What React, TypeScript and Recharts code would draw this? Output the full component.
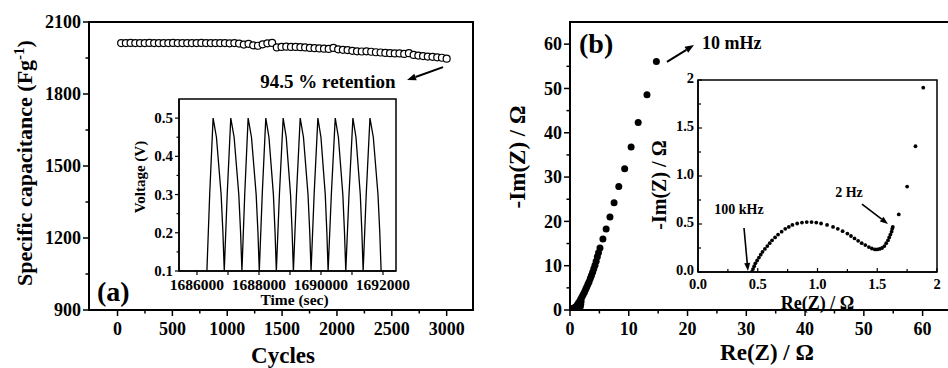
import React from 'react';
import {
  ScatterChart,
  Scatter,
  LineChart,
  Line,
  XAxis,
  YAxis,
  ReferenceArea,
  ReferenceLine,
  ReferenceDot,
} from 'recharts';

const FONT = '"Liberation Serif", "Times New Roman", Times, serif';

// ---------------- Panel (a): cycling stability ----------------
const cycleNumbers = [
  33, 76, 119, 162, 205, 248, 291, 334, 377, 420, 463, 506, 549, 592, 635, 678, 721, 764, 807, 850,
  893, 936, 979, 1022, 1065, 1108, 1151, 1194, 1237, 1280, 1323, 1366, 1409, 1452, 1495, 1538, 1581,
  1624, 1667, 1710, 1753, 1796, 1839, 1882, 1925, 1968, 2011, 2054, 2097, 2140, 2183, 2226, 2269, 2312,
  2355, 2398, 2441, 2484, 2527, 2570, 2613, 2656, 2699, 2742, 2785, 2828, 2871, 2914, 2957, 3000,
];
const specificCapacitance = [
  2012, 2012, 2013, 2012, 2012, 2012, 2013, 2012, 2012, 2012, 2012, 2013, 2012, 2012, 2012, 2012, 2012,
  2013, 2012, 2012, 2012, 2012, 2012, 2011, 2012, 2010, 2006, 2009, 2003, 2001, 2007, 2011, 2013, 1994,
  1996, 1997, 1996, 1996, 1995, 1994, 1992, 1991, 1990, 1989, 1988, 1992, 1986, 1984, 1983, 1980, 1978,
  1977, 1978, 1976, 1974, 1973, 1971, 1970, 1969, 1969, 1967, 1970, 1963, 1960, 1958, 1956, 1955, 1953,
  1951, 1947,
];
const cycleTicks = [0, 500, 1000, 1500, 2000, 2500, 3000];
const cycleMinorTicks = [250, 750, 1250, 1750, 2250, 2750];
const capacitanceTicks = [900, 1200, 1500, 1800, 2100];
const capacitanceMinorTicks = [1050, 1350, 1650, 1950];

// inset (a): galvanostatic charge/discharge
const gcdTime = [
  1686320, 1686410, 1686520, 1686628, 1686779, 1686837,
  1686880, 1686975, 1687090, 1687198, 1687349, 1687407,
  1687450, 1687540, 1687650, 1687758, 1687909, 1687967,
  1688010, 1688105, 1688220, 1688322, 1688465, 1688519,
  1688560, 1688659, 1688780, 1688879, 1689018, 1689070,
  1689110, 1689209, 1689330, 1689435, 1689582, 1689638,
  1689680, 1689779, 1689900, 1689999, 1690138, 1690190,
  1690230, 1690334, 1690460, 1690562, 1690705, 1690759,
  1690800, 1690904, 1691030, 1691129, 1691268, 1691320,
  1691360, 1691459, 1691580, 1691688, 1691839, 1691897,
  1691940,
];
const gcdVoltage = [
  0.1, 0.3, 0.5, 0.45, 0.3, 0.2,
  0.1, 0.3, 0.5, 0.45, 0.3, 0.2,
  0.1, 0.3, 0.5, 0.45, 0.3, 0.2,
  0.1, 0.3, 0.5, 0.45, 0.3, 0.2,
  0.1, 0.3, 0.5, 0.45, 0.3, 0.2,
  0.1, 0.3, 0.5, 0.45, 0.3, 0.2,
  0.1, 0.3, 0.5, 0.45, 0.3, 0.2,
  0.1, 0.3, 0.5, 0.45, 0.3, 0.2,
  0.1, 0.3, 0.5, 0.45, 0.3, 0.2,
  0.1, 0.3, 0.5, 0.45, 0.3, 0.2,
  0.1,
];
const timeTicks = [1686000, 1688000, 1690000, 1692000];
const timeMinorTicks = [1687000, 1689000, 1691000];
const voltageTicks = [0.1, 0.2, 0.3, 0.4, 0.5];
const voltageMinorTicks = [0.15, 0.25, 0.35, 0.45];

// ---------------- Panel (b): Nyquist plot ----------------
const reZ = [
  14.7, 13.1, 11.6, 10.4, 9.3, 8.3, 7.5, 6.8, 6.15, 5.6, 5.1, 4.85, 4.65, 4.45, 4.25, 4.05, 3.85, 3.65,
  3.45, 3.25, 3.05, 2.85, 2.65, 2.45, 2.25, 2.05, 1.85, 1.65, 1.45, 1.3, 1.15, 1.0, 0.9, 0.8, 0.7, 0.6, 0.5,
];
const negImZ = [
  56.1, 48.6, 42.3, 36.8, 31.9, 27.9, 24.2, 21.0, 18.3, 16.0, 14.0, 12.9, 12.0, 11.0, 10.1, 9.3, 8.5, 7.8,
  7.1, 6.4, 5.8, 5.2, 4.6, 4.0, 3.5, 3.0, 2.5, 2.0, 1.6, 1.25, 0.95, 0.7, 0.52, 0.4, 0.3, 0.15, 0.05,
];
const reZHighFreq = [
  0.45, 0.46, 0.47, 0.48, 0.495, 0.51, 0.525, 0.54, 0.56, 0.58, 0.6, 0.62, 0.645, 0.67, 0.7, 0.73, 0.76,
  0.79, 0.83, 0.87, 0.91, 0.95, 0.99, 1.03, 1.08, 1.13, 1.17, 1.21, 1.25, 1.28, 1.31, 1.34, 1.37, 1.4,
  1.43, 1.455, 1.48, 1.5, 1.52, 1.54, 1.56, 1.575, 1.59, 1.6, 1.61, 1.62, 1.625, 1.63, 1.68, 1.75, 1.82,
  1.885,
];
const negImZHighFreq = [
  0.0, 0.03, 0.06, 0.09, 0.12, 0.15, 0.18, 0.21, 0.24, 0.27, 0.3, 0.33, 0.36, 0.39, 0.42, 0.45, 0.47,
  0.49, 0.505, 0.515, 0.52, 0.52, 0.515, 0.505, 0.49, 0.47, 0.45, 0.425, 0.4, 0.375, 0.35, 0.325, 0.3,
  0.28, 0.26, 0.245, 0.235, 0.235, 0.24, 0.25, 0.27, 0.3, 0.33, 0.36, 0.39, 0.42, 0.45, 0.47, 0.6, 0.89,
  1.31, 1.92,
];
const nyqTicks = [0, 10, 20, 30, 40, 50, 60];
const nyqMinorTicks = [5, 15, 25, 35, 45, 55];
const insetTicks = [0, 0.5, 1, 1.5, 2];
const insetMinorTicks = [0.25, 0.75, 1.25, 1.75];

// ---------------- helpers ----------------
type TickOpts = {
  side: 'bottom' | 'left';
  major: number[];
  len: number;
  minorLen: number;
  inward?: boolean;
  size: number;
  gap: number;
  sw: number;
  lift?: number;
  fmt: (v: number) => string;
};

const makeTick = (o: TickOpts) => (props: any) => {
  const x = Number(props.x);
  const y = Number(props.y);
  const v = Number(props.payload?.value);
  const isMajor = o.major.some((m) => Math.abs(m - v) <= 1e-6 * Math.max(1, Math.abs(m)));
  const L = isMajor ? o.len : o.minorLen;
  const s = o.inward ? -1 : 1;
  if (o.side === 'bottom') {
    return (
      <g>
        <line x1={x} x2={x} y1={y} y2={y + s * L} stroke="#000" strokeWidth={o.sw} />
        {isMajor && (
          <text x={x} y={y + o.gap} textAnchor="middle" fontFamily={FONT} fontWeight="bold" fontSize={o.size} fill="#000">
            {o.fmt(v)}
          </text>
        )}
      </g>
    );
  }
  return (
    <g>
      <line x1={x} x2={x - s * L} y1={y} y2={y} stroke="#000" strokeWidth={o.sw} />
      {isMajor && (
        <text x={x - o.gap} y={y + o.size * (o.lift ?? 0.34)} textAnchor="end" fontFamily={FONT} fontWeight="bold" fontSize={o.size} fill="#000">
          {o.fmt(v)}
        </text>
      )}
    </g>
  );
};

const xTitle = (content: React.ReactNode, size: number, dx: number, dy: number) => (props: any) => {
  const vb = props.viewBox || {};
  return (
    <text x={vb.x + vb.width / 2 + dx} y={vb.y + dy} textAnchor="middle" fontFamily={FONT} fontWeight="bold" fontSize={size} fill="#000">
      {content}
    </text>
  );
};

const yTitle = (content: React.ReactNode, size: number, dx: number, dy: number) => (props: any) => {
  const vb = props.viewBox || {};
  const cx = vb.x + dx;
  const cy = vb.y + vb.height / 2 + dy;
  return (
    <text
      x={cx}
      y={cy + size * 0.34}
      transform={`rotate(-90 ${cx} ${cy})`}
      textAnchor="middle"
      fontFamily={FONT}
      fontWeight="bold"
      fontSize={size}
      fill="#000"
    >
      {content}
    </text>
  );
};

const textShape = (text: string, size: number, anchor: 'start' | 'middle' | 'end' = 'start') => (p: any) => (
  <text x={p.cx} y={p.cy} textAnchor={anchor} fontFamily={FONT} fontWeight="bold" fontSize={size} fill="#000">
    {text}
  </text>
);

const arrowShape = (head: number, width: number, sw: number) => (p: any) => {
  const { x1, y1, x2, y2 } = p;
  const ang = Math.atan2(y2 - y1, x2 - x1);
  const bx = x2 - head * Math.cos(ang);
  const by = y2 - head * Math.sin(ang);
  const px = -Math.sin(ang) * width;
  const py = Math.cos(ang) * width;
  return (
    <g>
      <line x1={x1} y1={y1} x2={bx} y2={by} stroke="#000" strokeWidth={sw} />
      <polygon points={`${x2},${y2} ${bx + px},${by + py} ${bx - px},${by - py}`} fill="#000" />
    </g>
  );
};

const HollowCircle = (p: any) => <circle cx={p.cx} cy={p.cy} r={3.5} fill="#fff" stroke="#000" strokeWidth={1.2} />;
const BigDot = (p: any) => <circle cx={p.cx} cy={p.cy} r={3.5} fill="#000" />;
const SmallDot = (p: any) => <circle cx={p.cx} cy={p.cy} r={1.9} fill="#000" />;

const sortNums = (a: number[]) => [...a].sort((p, q) => p - q);
const axisLine = (w: number) => ({ stroke: '#000', strokeWidth: w });

export default function App() {
  const capData = cycleNumbers.map((c, i) => ({ x: c, y: specificCapacitance[i] }));
  const gcdData = gcdTime.map((t, i) => ({ t, v: gcdVoltage[i] }));
  const nyqData = reZ.map((x, i) => ({ x, y: negImZ[i] }));
  const nyqHfData = reZHighFreq.map((x, i) => ({ x, y: negImZHighFreq[i] }));

  const insetFmt = (v: number) => (v === 2 ? '2' : v.toFixed(1));

  return (
    <div style={{ position: 'absolute', left: 0, top: 0, width: 948, height: 368, overflow: 'hidden', background: '#fff' }}>
      {/* Panel (a) main */}
      <div style={{ position: 'absolute', left: 0, top: 0 }}>
        <ScatterChart width={474} height={368} margin={{ top: 22, right: 1, bottom: 28, left: 0 }}>
          <XAxis
            type="number"
            dataKey="x"
            domain={[-260, 3240]}
            allowDataOverflow
            ticks={sortNums([...cycleTicks, ...cycleMinorTicks])}
            interval={0}
            tickSize={0}
            tickMargin={0}
            tickLine={false}
            axisLine={axisLine(2)}
            height={30}
            tick={makeTick({ side: 'bottom', major: cycleTicks, len: 6, minorLen: 3.5, size: 18, gap: 25, sw: 1.5, fmt: (v) => String(v) })}
            label={xTitle('Cycles', 23, 2, 53)}
          />
          <YAxis
            type="number"
            dataKey="y"
            domain={[900, 2100]}
            allowDataOverflow
            ticks={sortNums([...capacitanceTicks, ...capacitanceMinorTicks])}
            interval={0}
            tickSize={0}
            tickMargin={0}
            tickLine={false}
            axisLine={axisLine(2)}
            width={89}
            tick={makeTick({ side: 'left', major: capacitanceTicks, len: 6, minorLen: 3.5, size: 18, gap: 8, sw: 1.5, fmt: (v) => String(v) })}
            label={yTitle(
              <>
                <tspan>Specific capacitance (Fg</tspan>
                <tspan dy={-8} fontSize={15}>-1</tspan>
                <tspan dy={8}>)</tspan>
              </>,
              22,
              25,
              -3
            )}
          />
          <ReferenceArea x1={-260} x2={3240} y1={900} y2={2100} fill="none" fillOpacity={0} stroke="#000" strokeWidth={2} ifOverflow="visible" />
          <Scatter data={capData} shape={HollowCircle} isAnimationActive={false} />
          <ReferenceDot x={1918} y={1825} r={0} ifOverflow="visible" shape={textShape('94.5 % retention', 19, 'middle')} />
          <ReferenceLine segment={[{ x: 2967, y: 1912 }, { x: 2639, y: 1858 }]} ifOverflow="visible" shape={arrowShape(9, 3.5, 2)} />
          <ReferenceDot x={-187} y={937} r={0} ifOverflow="visible" shape={textShape('(a)', 28)} />
        </ScatterChart>
      </div>

      {/* Panel (a) inset */}
      <div style={{ position: 'absolute', left: 120, top: 90 }}>
        <LineChart width={290} height={230} data={gcdData} margin={{ top: 9, right: 14, bottom: 0, left: 0 }}>
          <XAxis
            type="number"
            dataKey="t"
            domain={[1685420, 1692420]}
            allowDataOverflow
            ticks={sortNums([...timeTicks, ...timeMinorTicks])}
            interval={0}
            tickSize={0}
            tickMargin={0}
            tickLine={false}
            axisLine={axisLine(1.5)}
            height={49}
            tick={makeTick({ side: 'bottom', major: timeTicks, len: 4, minorLen: 4, size: 15.5, gap: 19, sw: 1.2, fmt: (v) => String(v) })}
            label={xTitle('Time (sec)', 15.5, 7, 34)}
          />
          <YAxis
            type="number"
            dataKey="v"
            domain={[0.1, 0.55]}
            allowDataOverflow
            ticks={sortNums([...voltageTicks, ...voltageMinorTicks])}
            interval={0}
            tickSize={0}
            tickMargin={0}
            tickLine={false}
            axisLine={axisLine(1.5)}
            width={59}
            tick={makeTick({ side: 'left', major: voltageTicks, len: 4, minorLen: 2.5, size: 15, gap: 6, sw: 1.2, fmt: (v) => v.toFixed(1) })}
            label={yTitle('Voltage (V)', 15, 20, -8)}
          />
          <ReferenceArea x1={1685420} x2={1692420} y1={0.1} y2={0.55} fill="none" fillOpacity={0} stroke="#000" strokeWidth={1.5} ifOverflow="visible" />
          <Line type="linear" dataKey="v" stroke="#000" strokeWidth={1.3} dot={false} isAnimationActive={false} />
        </LineChart>
      </div>

      {/* Panel (b) main */}
      <div style={{ position: 'absolute', left: 474, top: 0 }}>
        <ScatterChart width={480} height={368} margin={{ top: 22, right: 2, bottom: 28, left: 0 }}>
          <XAxis
            type="number"
            dataKey="x"
            domain={[0, 65]}
            allowDataOverflow
            ticks={sortNums([...nyqTicks, ...nyqMinorTicks])}
            interval={0}
            tickSize={0}
            tickMargin={0}
            tickLine={false}
            axisLine={axisLine(2)}
            height={30}
            tick={makeTick({ side: 'bottom', major: nyqTicks, len: 6, minorLen: 3.5, size: 18, gap: 25, sw: 1.5, fmt: (v) => String(v) })}
            label={xTitle('Re(Z) / Ω', 23, 6, 50)}
          />
          <YAxis
            type="number"
            dataKey="y"
            domain={[0, 65]}
            allowDataOverflow
            ticks={sortNums([...nyqTicks, ...nyqMinorTicks])}
            interval={0}
            tickSize={0}
            tickMargin={0}
            tickLine={false}
            axisLine={axisLine(2)}
            width={96}
            tick={makeTick({ side: 'left', major: nyqTicks, len: 6, minorLen: 3.5, size: 18, gap: 8, sw: 1.5, fmt: (v) => String(v) })}
            label={yTitle('-Im(Z) / Ω', 23, 43, -9)}
          />
          <ReferenceArea x1={0} x2={65} y1={0} y2={65} fill="none" fillOpacity={0} stroke="#000" strokeWidth={2} ifOverflow="visible" />
          <Scatter data={nyqHfData} shape={BigDot} isAnimationActive={false} />
          <Scatter data={nyqData} shape={BigDot} isAnimationActive={false} />
          <ReferenceDot x={1.53} y={58.0} r={0} ifOverflow="visible" shape={textShape('(b)', 28)} />
          <ReferenceDot x={22.46} y={58.9} r={0} ifOverflow="visible" shape={textShape('10 mHz', 18)} />
          <ReferenceLine segment={[{ x: 16.5, y: 56.0 }, { x: 21.1, y: 59.8 }]} ifOverflow="visible" shape={arrowShape(9, 3.5, 2)} />
        </ScatterChart>
      </div>

      {/* Panel (b) inset */}
      <div style={{ position: 'absolute', left: 630, top: 70 }}>
        <ScatterChart width={320} height={252} margin={{ top: 10, right: 13, bottom: 12, left: 0 }}>
          <XAxis
            type="number"
            dataKey="x"
            domain={[0, 2]}
            allowDataOverflow
            ticks={sortNums([...insetTicks, ...insetMinorTicks])}
            interval={0}
            tickSize={0}
            tickMargin={0}
            tickLine={false}
            axisLine={axisLine(1.5)}
            height={38}
            tick={makeTick({ side: 'bottom', major: insetTicks, len: 4, minorLen: 3, inward: true, size: 14.5, gap: 17, sw: 1.2, fmt: insetFmt })}
            label={xTitle('Re(Z) / Ω', 18, 0, 37)}
          />
          <YAxis
            type="number"
            dataKey="y"
            domain={[0, 2]}
            allowDataOverflow
            ticks={sortNums([...insetTicks, ...insetMinorTicks])}
            interval={0}
            tickSize={0}
            tickMargin={0}
            tickLine={false}
            axisLine={axisLine(1.5)}
            width={68}
            tick={makeTick({ side: 'left', major: insetTicks, len: 4, minorLen: 3, inward: true, size: 14.5, gap: 4, sw: 1.2, lift: 0.22, fmt: insetFmt })}
            label={yTitle('-Im(Z) / Ω', 20, 29, 9)}
          />
          <ReferenceArea x1={0} x2={2} y1={0} y2={2} fill="none" fillOpacity={0} stroke="#000" strokeWidth={1.5} ifOverflow="visible" />
          <Scatter data={nyqHfData} shape={SmallDot} isAnimationActive={false} />
          <ReferenceDot x={0.343} y={0.604} r={0} ifOverflow="visible" shape={textShape('100 kHz', 14, 'middle')} />
          <ReferenceLine segment={[{ x: 0.385, y: 0.458 }, { x: 0.418, y: 0.01 }]} ifOverflow="visible" shape={arrowShape(8, 3, 1.6)} />
          <ReferenceDot x={1.264} y={0.781} r={0} ifOverflow="visible" shape={textShape('2 Hz', 14, 'middle')} />
          <ReferenceLine segment={[{ x: 1.372, y: 0.708 }, { x: 1.59, y: 0.5 }]} ifOverflow="visible" shape={arrowShape(8, 3, 1.6)} />
        </ScatterChart>
      </div>
    </div>
  );
}
